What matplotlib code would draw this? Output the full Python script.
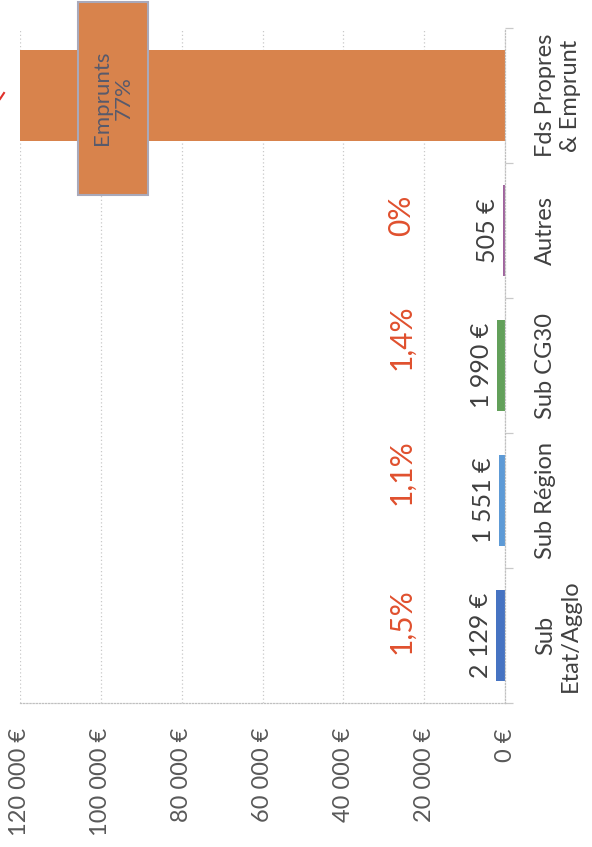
import matplotlib
matplotlib.use("Agg")
import matplotlib.pyplot as plt
from matplotlib.patches import Rectangle
from matplotlib.lines import Line2D

plt.rcParams['font.family'] = ['Lato', 'DejaVu Sans']

# financing plan, bottom to top
categories = ['Sub\nEtat/Agglo', 'Sub Région', 'Sub CG30', 'Autres', 'Fds Propres\n& Emprunt']
amounts = [2129, 1551, 1990, 505, 138000]
amount_labels = ['2 129 €', '1 551 €', '1 990 €', '505 €', None]
pct_labels = ['1,5%', '1,1%', '1,4%', '0%', None]
bar_colors = ['#4673c2', '#5d9ad6', '#62a05a', '#a0649e', '#d8834c']
value_ticks = [0, 20000, 40000, 60000, 80000, 100000, 120000]
value_tick_labels = ['0 €', '20 000 €', '40 000 €', '60 000 €', '80 000 €', '100 000 €', '120 000 €']

# nudges of the percent labels towards the top of the page
pct_shift = [0.11, 0.21, 0.21, 0.11, 0]

fig = plt.figure(figsize=(5.92, 8.47), dpi=100)
ax = fig.add_axes([20 / 592, 1 - 703 / 847, 485 / 592, 675 / 847])

ypos = list(range(len(categories)))
ax.barh(ypos, amounts, height=0.667, color=bar_colors, zorder=2)

ax.set_xlim(120000, 0)
ax.set_ylim(-0.5, len(categories) - 0.5)

ax.set_xticks(value_ticks)
ax.set_xticklabels(value_tick_labels, rotation=90, fontsize=17, color='#595959')
ax.tick_params(axis='x', length=0, pad=18)
ax.grid(axis='x', color='#c9c9c9', linestyle=(0, (1, 2)), linewidth=0.9, zorder=0)

ax.set_yticks([])
ax.set_yticks([i - 0.5 for i in range(len(categories) + 1)], minor=True)
ax.tick_params(axis='y', which='minor', left=False, right=True, length=6,
               color='#c9c9c9', width=0.9)

for side in ['top', 'left']:
    ax.spines[side].set_visible(False)
for side in ['right', 'bottom']:
    ax.spines[side].set_color('#c0c0c0')
    ax.spines[side].set_linestyle((0, (1, 1.5)))
    ax.spines[side].set_linewidth(0.9)

trans = ax.get_yaxis_transform()

# category names on the right, read upwards
for i, name in enumerate(categories):
    ax.text(1.062, i, name, transform=trans, rotation=90, ha='left', va='center',
            multialignment='center', fontsize=17, color='#404040', linespacing=1.25)

# amounts just past the end of each small bar
for i, (val, lab) in enumerate(zip(amounts, amount_labels)):
    if lab is None:
        continue
    ax.annotate(lab, xy=(val, i), xytext=(-3, 0), textcoords='offset points',
                rotation=90, ha='right', va='center', fontsize=18, color='#404040')

# shares of the total
for i, (lab, dy) in enumerate(zip(pct_labels, pct_shift)):
    if lab is None:
        continue
    ax.text(0.786, i + dy, lab, transform=trans, rotation=90, ha='center', va='center',
            fontsize=21.5, color='#e0502e')

# callout on the loan bar
box_x, box_y = 97000, 3.98
box_w, box_h = 17100, 1.43
ax.add_patch(Rectangle((box_x - box_w / 2, box_y - box_h / 2), box_w, box_h,
                       facecolor='#d8834c', edgecolor='#a9a9ba', linewidth=1.5,
                       clip_on=False, zorder=4))
ax.text(box_x, box_y, 'Emprunts\n77%', rotation=90, ha='center', va='center',
        multialignment='center', fontsize=16, color='#585a6c', linespacing=1.15,
        zorder=5)

# tail of the red arrow coming from the left margin
fig.add_artist(Line2D([0, 4 / 592], [1 - 99 / 847, 1 - 93 / 847],
                      color='#e0302a', linewidth=1.5))

fig.savefig('out.png', dpi=100)
